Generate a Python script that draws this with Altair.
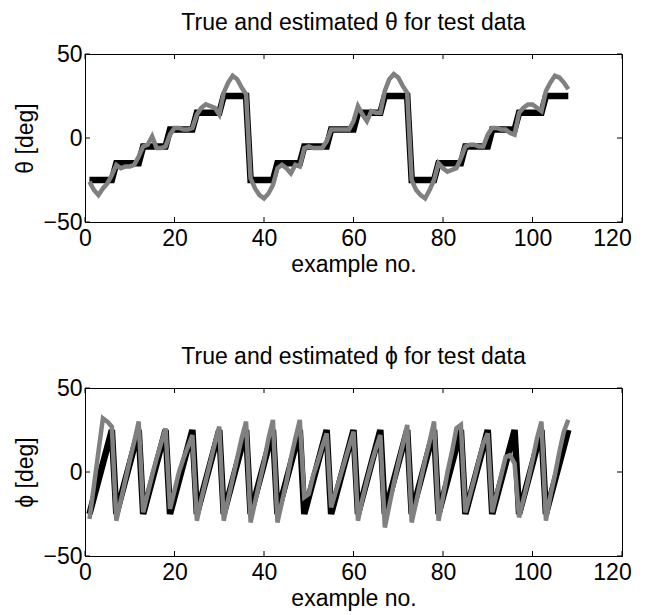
import altair as alt
import pandas as pd

example_no = list(range(1, 109))

theta_true = [
    -25, -25, -25, -25, -25, -25, -15, -15, -15, -15, -15, -15,
    -5, -5, -5, -5, -5, -5, 5, 5, 5, 5, 5, 5,
    15, 15, 15, 15, 15, 15, 25, 25, 25, 25, 25, 25,
    -25, -25, -25, -25, -25, -25, -15, -15, -15, -15, -15, -15,
    -5, -5, -5, -5, -5, -5, 5, 5, 5, 5, 5, 5,
    15, 15, 15, 15, 15, 15, 25, 25, 25, 25, 25, 25,
    -25, -25, -25, -25, -25, -25, -15, -15, -15, -15, -15, -15,
    -5, -5, -5, -5, -5, -5, 5, 5, 5, 5, 5, 5,
    15, 15, 15, 15, 15, 15, 25, 25, 25, 25, 25, 25,
]

theta_est = [
    -26, -31, -34, -30, -27, -22, -16, -18, -17, -17, -16, -11,
    -5, -4, 1, -6, -6, -5, 2, 6, 6, 5, 5, 6,
    14, 18, 20, 19, 18, 14, 27, 33, 37, 35, 30, 26,
    -24, -30, -34, -36, -33, -28, -18, -16, -18, -21, -16, -17,
    -6, -5, -6, -6, -6, -2, 5, 5, 5, 5, 5, 10,
    19, 14, 10, 16, 15, 15, 28, 35, 38, 36, 31, 27,
    -25, -31, -34, -36, -31, -25, -15, -18, -20, -19, -18, -12,
    -5, -4, -4, -5, -5, 2, 6, 6, 5, 5, 3, 2,
    15, 18, 20, 20, 18, 16, 28, 33, 37, 36, 33, 29,
]

phi_true = [
    -25, -15, -5, 5, 15, 25, -25, -15, -5, 5, 15, 25,
    -25, -15, -5, 5, 15, 25, -25, -15, -5, 5, 15, 25,
    -25, -15, -5, 5, 15, 25, -25, -15, -5, 5, 15, 25,
    -25, -15, -5, 5, 15, 25, -25, -15, -5, 5, 15, 25,
    -25, -15, -5, 5, 15, 25, -25, -15, -5, 5, 15, 25,
    -25, -15, -5, 5, 15, 25, -25, -15, -5, 5, 15, 25,
    -25, -15, -5, 5, 15, 25, -25, -15, -5, 5, 15, 25,
    -25, -15, -5, 5, 15, 25, -25, -15, -5, 5, 15, 25,
    -25, -15, -5, 5, 15, 25, -25, -15, -5, 5, 15, 25,
]

phi_est = [
    -28, -8, 12, 32, 30, 27, -29, -17, -5, 7, 18, 30,
    -24, -13, -2, 8, 17, 26, -22, -11, 0, 8, 15, 22,
    -29, -16, -5, 6, 17, 27, -29, -16, -4, 8, 20, 30,
    -30, -18, -6, 6, 20, 31, -30, -18, -6, 8, 20, 31,
    -15, -13, -2, 6, 15, 23, -21, -12, -3, 6, 15, 24,
    -29, -16, -5, 5, 14, 22, -33, -20, -7, 5, 16, 28,
    -30, -18, -5, 7, 18, 30, -29, -15, 0, 12, 26, 28,
    -24, -14, -4, 7, 17, 23, -24, -13, -2, 9, 10, 5,
    -27, -16, -5, 7, 20, 30, -29, -14, -2, 12, 24, 31,
]

x_ticks = [0, 20, 40, 60, 80, 100, 120]
y_ticks = [-50, 0, 50]

W, H = 537, 168
FONT = "Liberation Sans, Arial, Helvetica, sans-serif"
FS = 23
TICK = 5

df = pd.DataFrame({
    "x": example_no,
    "theta_true": theta_true,
    "theta_est": theta_est,
    "phi_true": phi_true,
    "phi_est": phi_est,
})
xt = pd.DataFrame({"v": x_ticks})
yt = pd.DataFrame({"v": y_ticks})


def panel(true_col, est_col, title, ytitle):
    xs = alt.Scale(domain=[0, 120], nice=False, zero=False)
    ys = alt.Scale(domain=[-50, 50], nice=False, zero=False)
    xaxis = alt.Axis(values=x_ticks, title="example no.", ticks=False, grid=False,
                     labelPadding=5, titlePadding=3, format="d", labelFlush=False,
                     labelOffset={"condition": {"test": "datum.value == 120", "value": -10},
                                  "value": 0})
    yaxis = alt.Axis(values=y_ticks, title=ytitle, ticks=False, grid=False,
                     labelPadding=3, titlePadding=5, format="d", labelFlush=False)
    base = alt.Chart(df)
    true_line = base.mark_line(color="black", strokeWidth=6.5).encode(
        x=alt.X("x:Q", scale=xs, axis=xaxis),
        y=alt.Y(f"{true_col}:Q", scale=ys, axis=yaxis),
    )
    est_line = base.mark_line(color="#808080", strokeWidth=4.5).encode(
        x=alt.X("x:Q", scale=xs, axis=xaxis),
        y=alt.Y(f"{est_col}:Q", scale=ys, axis=yaxis),
    )
    xb = alt.Chart(xt).mark_rule(color="black", strokeWidth=1).encode(
        x=alt.X("v:Q", scale=xs, axis=xaxis), y=alt.value(H), y2=alt.value(H - TICK))
    xtp = alt.Chart(xt).mark_rule(color="black", strokeWidth=1).encode(
        x=alt.X("v:Q", scale=xs, axis=xaxis), y=alt.value(0), y2=alt.value(TICK))
    yl = alt.Chart(yt).mark_rule(color="black", strokeWidth=1).encode(
        y=alt.Y("v:Q", scale=ys, axis=yaxis), x=alt.value(0), x2=alt.value(TICK))
    yr = alt.Chart(yt).mark_rule(color="black", strokeWidth=1).encode(
        y=alt.Y("v:Q", scale=ys, axis=yaxis), x=alt.value(W), x2=alt.value(W - TICK))
    return alt.layer(true_line, est_line, xb, xtp, yl, yr).properties(
        width=W, height=H,
        title=alt.TitleParams(title, fontSize=FS, font=FONT, fontWeight="normal",
                              color="black", offset=8),
    )


top = panel("theta_true", "theta_est", "True and estimated θ for test data", "θ [deg]")
bottom = panel("phi_true", "phi_est", "True and estimated ϕ for test data", "ϕ [deg]")

chart = alt.vconcat(top, bottom, spacing=68).properties(
    padding={"left": 6, "top": 3, "right": 0, "bottom": 0},
    background="white",
).configure_view(
    stroke="black", strokeWidth=1
).configure_axis(
    labelFont=FONT, titleFont=FONT, labelFontSize=FS, titleFontSize=FS,
    labelColor="black", titleColor="black", domainColor="black",
    titleFontWeight="normal", domain=True,
)

chart.save("out.html", embed_options={"renderer": "svg", "actions": False})
